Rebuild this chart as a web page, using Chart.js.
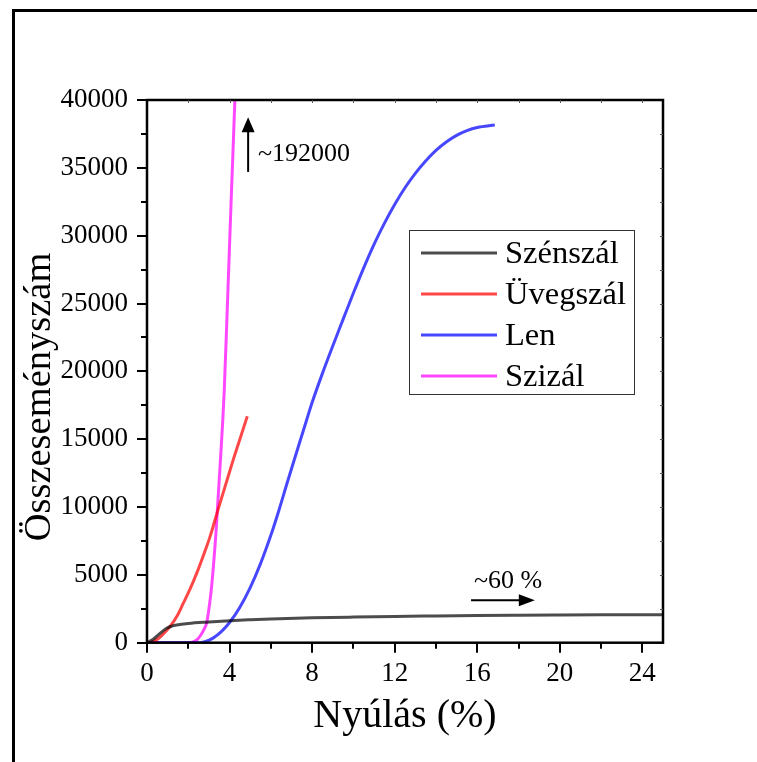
<!DOCTYPE html>
<html>
<head>
<meta charset="utf-8">
<script src="https://cdn.jsdelivr.net/npm/chart.js"></script>
<style>
  html, body { margin: 0; padding: 0; background: #fff; }
  canvas { display: block; }
</style>
</head>
<body>
<canvas id="chart" width="757" height="762"></canvas>
<script>
// adatok
const seriesNames  = ['Szénszál', 'Üvegszál', 'Len', 'Szizál'];
const seriesColors = ['rgba(0,0,0,0.7)', 'rgba(255,0,0,0.72)', 'rgba(0,0,255,0.72)', 'rgba(255,0,255,0.72)'];

const szenszalX = [0, 0.3, 0.6, 0.95, 1.2, 1.44, 2, 3, 4.02, 5, 6, 8, 10, 12, 13.7, 16, 18, 20, 22, 25];
const szenszalY = [0, 250, 650, 1064, 1220, 1307, 1420, 1530, 1625, 1690, 1745, 1830, 1890, 1940, 1972, 2010, 2030, 2045, 2055, 2063];

const uvegszalX = [0.1, 0.4, 0.7, 1.11, 1.45, 1.76, 2.1, 2.41, 2.75, 3.05, 3.45, 3.8, 4.18, 4.5, 4.86];
const uvegszalY = [0, 150, 500, 1180, 1950, 2910, 4000, 5125, 6500, 7800, 9850, 11600, 13490, 15000, 16690];

const lenX = [0, 1, 2, 2.47, 2.8, 3.2, 3.6, 4.0, 4.5, 5.0, 5.5, 6.0, 6.4, 6.77, 7.3, 7.73, 8.0, 8.5, 9.0, 9.5, 10.0,
              10.5, 11.0, 11.5, 12.0, 12.5, 13.0, 13.5, 14.0, 14.5, 15.0, 15.5, 16.0, 16.85];
const lenY = [0, 0, 0, 0, 69, 338, 811, 1486, 2617, 4064, 5830, 7912, 9800, 11680, 14300, 16400, 17700, 19850, 21870, 23830, 25770,
              27630, 29360, 30910, 32300, 33530, 34590, 35500, 36280, 36900, 37390, 37740, 37970, 38150];

const szizalX = [0, 1, 2, 2.2, 2.41, 2.6, 2.75, 2.89, 3.0, 3.13, 3.34, 3.54, 3.74, 3.91, 4.08, 4.26, 4.3];
const szizalY = [0, 0, 0, 40, 200, 550, 950, 1450, 2500, 4140, 8080, 13000, 18500, 25500, 32700, 40100, 42000];

const xTicks = [0, 4, 8, 12, 16, 20, 24];
const yTicks = [0, 5000, 10000, 15000, 20000, 25000, 30000, 35000, 40000];

// feliratok a nyilakhoz
const notes = [
  { text: '~192000', x: 5.38, y: 35530, size: 26 },
  { text: '~60 %',   x: 15.84, y: 4060, size: 26 }
];

function pts(xs, ys) {
  return xs.map((x, i) => ({ x: x, y: ys[i] }));
}
const allSeries = [[szenszalX, szenszalY], [uvegszalX, uvegszalY], [lenX, lenY], [szizalX, szizalY]];

const FONT = '"Liberation Serif", "Times New Roman", serif';

const extras = {
  id: 'extras',
  beforeDraw(chart) {
    const ctx = chart.ctx;
    ctx.save();
    ctx.fillStyle = '#fff';
    ctx.fillRect(0, 0, chart.width, chart.height);
    // külső keret
    ctx.strokeStyle = '#000';
    ctx.lineWidth = 3;
    ctx.beginPath();
    ctx.moveTo(13.5, chart.height);
    ctx.lineTo(13.5, 10.5);
    ctx.lineTo(chart.width, 10.5);
    ctx.stroke();
    ctx.restore();
  },
  afterDatasetsDraw(chart) {
    const ctx = chart.ctx;
    const a = chart.chartArea;
    const xs = chart.scales.x, ys = chart.scales.y;
    ctx.save();
    ctx.strokeStyle = '#000';
    ctx.lineWidth = 2.5;
    ctx.strokeRect(a.left, a.top, a.right - a.left, a.bottom - a.top);

    // tengely jelölők
    ctx.lineWidth = 2;
    ctx.beginPath();
    for (let v = 0; v <= 24; v += 2) {
      const px = Math.round(xs.getPixelForValue(v));
      const len = v % 4 === 0 ? 10 : 6;
      ctx.moveTo(px, a.bottom);
      ctx.lineTo(px, a.bottom + len);
    }
    for (let v = 0; v <= 40000; v += 2500) {
      const py = Math.round(ys.getPixelForValue(v));
      const len = v % 5000 === 0 ? 10 : 6;
      ctx.moveTo(a.left, py);
      ctx.lineTo(a.left - len, py);
    }
    ctx.stroke();
    ctx.lineWidth = 1;
    ctx.strokeStyle = '#555';
    ctx.beginPath();
    for (let v = 2; v <= 24; v += 2) {
      const px = Math.round(xs.getPixelForValue(v)) + 0.5;
      ctx.moveTo(px, a.top);
      ctx.lineTo(px, a.top + 3);
    }
    for (let v = 2500; v < 40000; v += 2500) {
      const py = Math.round(ys.getPixelForValue(v)) + 0.5;
      ctx.moveTo(a.right, py);
      ctx.lineTo(a.right - 3, py);
    }
    ctx.stroke();

    // y tengely felirat
    ctx.fillStyle = '#000';
    ctx.font = '38.5px ' + FONT;
    ctx.textAlign = 'center';
    ctx.textBaseline = 'middle';
    ctx.translate(40, 397);
    ctx.rotate(-Math.PI / 2);
    ctx.fillText('Összeseményszám', 0, 0);
    ctx.setTransform(1, 0, 0, 1, 0, 0);

    // jelmagyarázat
    const lx = 409.5, ly = 230.5, lw = 225, lh = 164;
    ctx.strokeStyle = '#333';
    ctx.lineWidth = 1;
    ctx.strokeRect(lx, ly, lw, lh);
    ctx.font = '32.5px ' + FONT;
    ctx.textAlign = 'left';
    ctx.textBaseline = 'middle';
    chart.data.datasets.forEach((ds, i) => {
      const yy = 253 + i * 41;
      ctx.strokeStyle = ds.borderColor;
      ctx.lineWidth = 3;
      ctx.beginPath();
      ctx.moveTo(421, yy);
      ctx.lineTo(497, yy);
      ctx.stroke();
      ctx.fillStyle = '#000';
      ctx.fillText(ds.label, 505, yy + 1);
    });

    // nyilak
    ctx.fillStyle = '#000';
    ctx.strokeStyle = '#000';
    ctx.lineWidth = 2;
    const ux = xs.getPixelForValue(4.9);
    const uy0 = ys.getPixelForValue(34700), uy1 = ys.getPixelForValue(38730);
    ctx.beginPath();
    ctx.moveTo(ux, uy0);
    ctx.lineTo(ux, uy1 + 10);
    ctx.stroke();
    ctx.beginPath();
    ctx.moveTo(ux, uy1);
    ctx.lineTo(ux - 6.5, uy1 + 15);
    ctx.lineTo(ux + 6.5, uy1 + 15);
    ctx.closePath();
    ctx.fill();

    const ry = ys.getPixelForValue(3130);
    const rx0 = xs.getPixelForValue(15.7), rx1 = xs.getPixelForValue(18.79);
    ctx.beginPath();
    ctx.moveTo(rx0, ry);
    ctx.lineTo(rx1 - 10, ry);
    ctx.stroke();
    ctx.beginPath();
    ctx.moveTo(rx1, ry);
    ctx.lineTo(rx1 - 16, ry - 6);
    ctx.lineTo(rx1 - 16, ry + 6);
    ctx.closePath();
    ctx.fill();

    ctx.textBaseline = 'alphabetic';
    notes.forEach(n => {
      ctx.font = n.size + 'px ' + FONT;
      ctx.fillText(n.text, xs.getPixelForValue(n.x), ys.getPixelForValue(n.y));
    });
    ctx.restore();
  }
};

new Chart(document.getElementById('chart'), {
  type: 'line',
  data: {
    datasets: allSeries.map((s, i) => ({
      label: seriesNames[i],
      data: pts(s[0], s[1]),
      borderColor: seriesColors[i],
      backgroundColor: seriesColors[i],
      borderWidth: 3,
      pointRadius: 0,
      fill: false,
      tension: 0.4,
      cubicInterpolationMode: 'monotone'
    }))
  },
  options: {
    responsive: false,
    animation: false,
    devicePixelRatio: 1,
    layout: { padding: { top: 100, right: 94, left: 0, bottom: 0 } },
    plugins: {
      legend: { display: false },
      tooltip: { enabled: false }
    },
    scales: {
      x: {
        type: 'linear',
        min: 0,
        max: 25,
        afterFit(scale) { scale.height = 119.3; },
        afterBuildTicks(scale) { scale.ticks = xTicks.map(v => ({ value: v })); },
        grid: { display: false, drawTicks: false },
        border: { display: false },
        ticks: {
          padding: 15,
          color: '#000',
          font: { family: FONT, size: 27 },
          maxRotation: 0
        },
        title: {
          display: true,
          text: 'Nyúlás (%)',
          color: '#000',
          font: { family: FONT, size: 40 },
          padding: { top: 0, bottom: 22 }
        }
      },
      y: {
        type: 'linear',
        min: 0,
        max: 40000,
        afterFit(scale) { scale.width = 147; },
        afterBuildTicks(scale) { scale.ticks = yTicks.map(v => ({ value: v })); },
        grid: { display: false, drawTicks: false },
        border: { display: false },
        ticks: {
          padding: 19,
          color: '#000',
          font: { family: FONT, size: 27 },
          callback: v => String(v)
        }
      }
    }
  },
  plugins: [extras]
});
</script>
</body>
</html>
